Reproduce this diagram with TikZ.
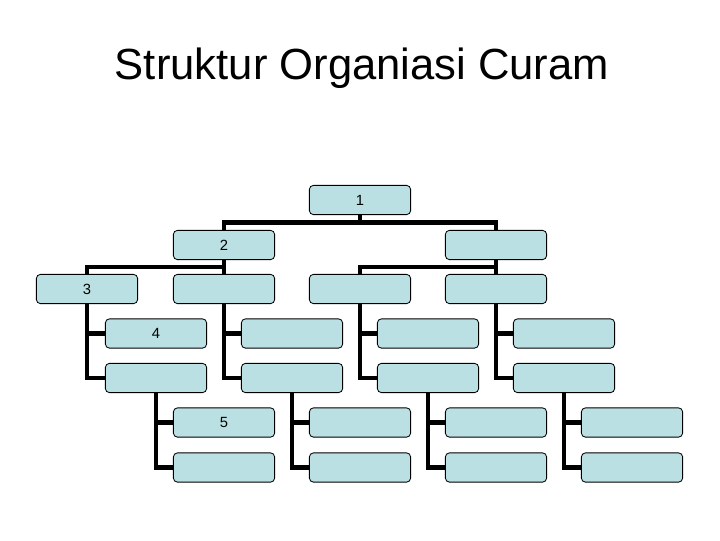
\documentclass[tikz,border=0pt]{standalone}
\usepackage{fontspec}
\setmainfont{Liberation Sans}
\usetikzlibrary{positioning}
\definecolor{boxblue}{RGB}{187,224,227}

\tikzset{
  orgbox/.style={draw=black, line width=0.6pt, fill=boxblue, rounded corners=0.1cm,
    minimum width=2.53cm, minimum height=0.73cm, inner sep=0pt, font=\fontsize{10.5}{12}\selectfont},
  link/.style={draw=black, line width=3pt}
}

\begin{document}
\begin{tikzpicture}[x=0.025cm, y=-0.025cm]
  \useasboundingbox (0,0) rectangle (720,540);
  % Title
  \node[anchor=base, font=\fontsize{31}{36}\selectfont] (title) at (362,79) {Struktur Organiasi Curam};
  % Top and second level
  \node[orgbox] (n1)  at (360,200) {1};
  \node[orgbox] (n2)  at (224,245) {2};
  \node[orgbox] (n2r) at (496,245) {};
  % Third level
  \node[orgbox] (n3a) at (87,289)  {3};
  \node[orgbox] (n3b) at (224,289) {};
  \node[orgbox] (n3c) at (360,289) {};
  \node[orgbox] (n3d) at (496,289) {};
  % Hanging under third level
  \node[orgbox] (n4a) at (156,333.5) {4};
  \node[orgbox] (n4b) at (292,333.5) {};
  \node[orgbox] (n4c) at (428,333.5) {};
  \node[orgbox] (n4d) at (564,333.5) {};
  \node[orgbox] (n5a) at (156,378) {};
  \node[orgbox] (n5b) at (292,378) {};
  \node[orgbox] (n5c) at (428,378) {};
  \node[orgbox] (n5d) at (564,378) {};
  % Hanging under fifth row
  \node[orgbox] (n6a) at (224,422.5) {5};
  \node[orgbox] (n6b) at (360,422.5) {};
  \node[orgbox] (n6c) at (496,422.5) {};
  \node[orgbox] (n6d) at (632,422.5) {};
  \node[orgbox] (n7a) at (224,467.5) {};
  \node[orgbox] (n7b) at (360,467.5) {};
  \node[orgbox] (n7c) at (496,467.5) {};
  \node[orgbox] (n7d) at (632,467.5) {};

  % Connectors
  \path[link] (n1.south) -- ++(0,7.5) -| (n2.north);
  \path[link] (n1.south) -- ++(0,7.5) -| (n2r.north);
  \path[link] (n2.south) -- ++(0,7) -| (n3a.north);
  \path[link] (n2.south) -- (n3b.north);
  \path[link] (n2r.south) -- ++(0,7) -| (n3c.north);
  \path[link] (n2r.south) -- (n3d.north);
  \path[link] (n3a.south) |- (n4a.west);
  \path[link] (n3a.south) |- (n5a.west);
  \path[link] (n3b.south) |- (n4b.west);
  \path[link] (n3b.south) |- (n5b.west);
  \path[link] (n3c.south) |- (n4c.west);
  \path[link] (n3c.south) |- (n5c.west);
  \path[link] (n3d.south) |- (n4d.west);
  \path[link] (n3d.south) |- (n5d.west);
  \path[link] (n5a.south) |- (n6a.west);
  \path[link] (n5a.south) |- (n7a.west);
  \path[link] (n5b.south) |- (n6b.west);
  \path[link] (n5b.south) |- (n7b.west);
  \path[link] (n5c.south) |- (n6c.west);
  \path[link] (n5c.south) |- (n7c.west);
  \path[link] (n5d.south) |- (n6d.west);
  \path[link] (n5d.south) |- (n7d.west);
\end{tikzpicture}
\end{document}
